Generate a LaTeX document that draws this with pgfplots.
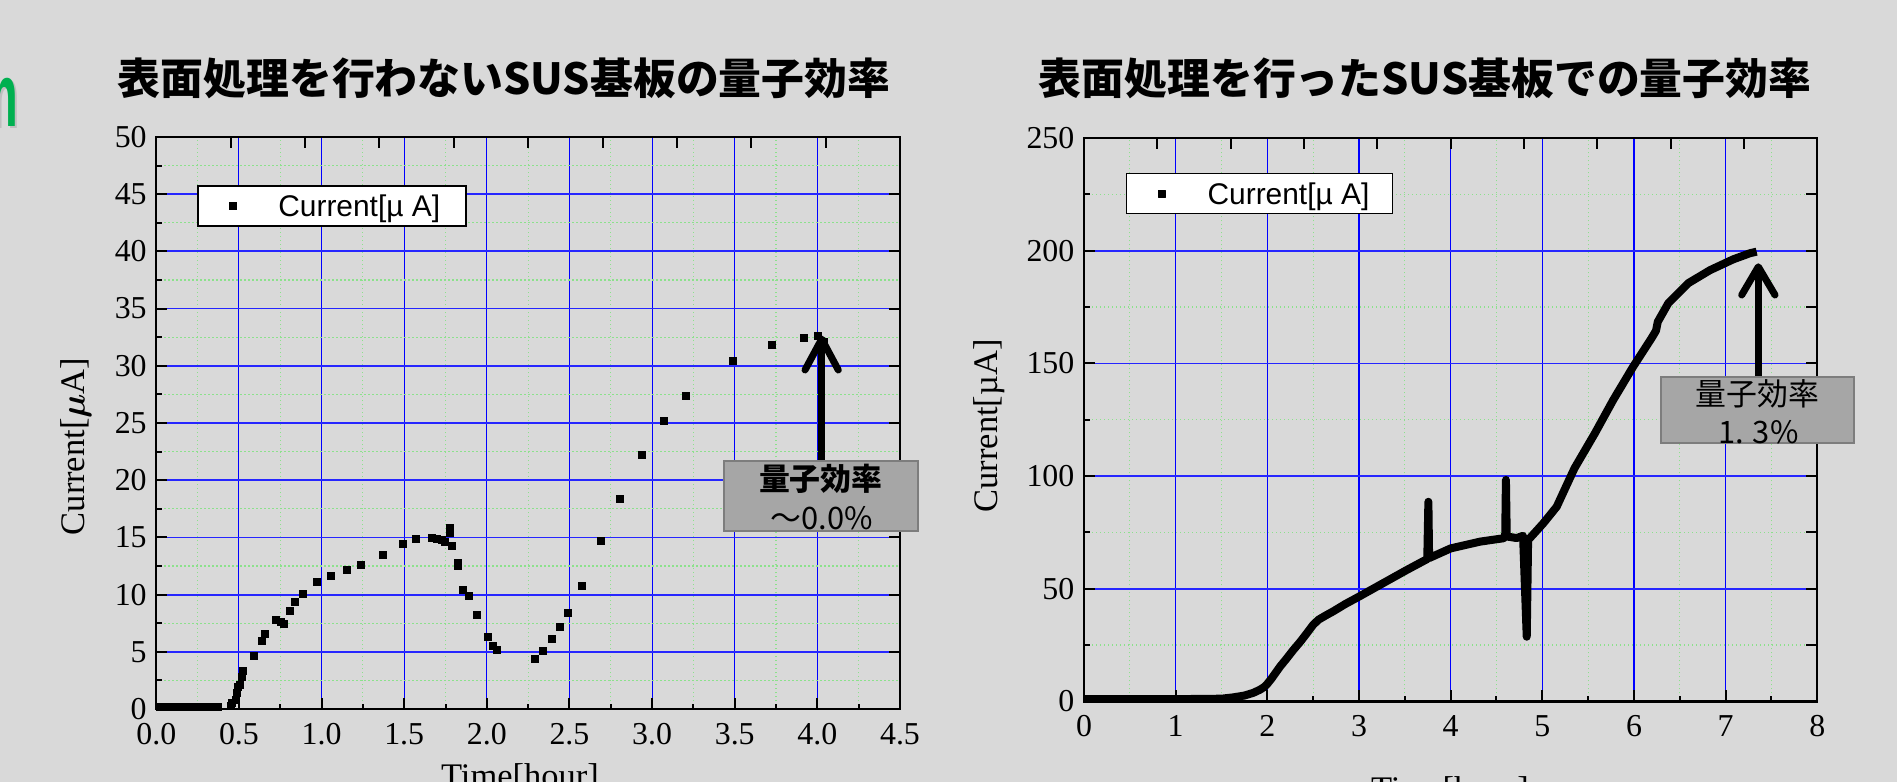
\documentclass[border=0pt]{standalone}
\usepackage{fontspec}
\setmainfont{Liberation Serif}
\newfontfamily\jp{Noto Sans CJK JP}
\newfontfamily\lsans{Liberation Sans}
\usepackage{bm}
\usepackage{graphicx}
\usepackage{pgfplots}
\pgfplotsset{compat=1.18}
\definecolor{bg}{RGB}{217,217,217}
\definecolor{mgreen}{RGB}{140,225,140}
\definecolor{boxfill}{RGB}{166,166,166}
\definecolor{boxedge}{RGB}{125,125,125}
\definecolor{slidegreen}{RGB}{0,176,80}
\pgfplotsset{
  mystyle/.style={
    scale only axis, anchor=south west,
    axis line style={line width=1.1bp, black},
    tick align=inside, xtick pos=bottom, ytick pos=left,
    major tick length=5.5bp, minor tick length=2.75bp,
    every tick/.style={black, line width=1bp},
    minor x tick num=1, minor y tick num=1,
    xmajorgrids, ymajorgrids, xminorgrids, yminorgrids,
    major x grid style={blue, line width=0.55bp},
    major y grid style={blue!85!white, line width=0.9bp},
    minor grid style={mgreen, line width=0.6bp, dash pattern=on 0.6bp off 1.4bp},
    tick label style={font=\fontsize{16}{18}\selectfont},
    /pgf/number format/assume math mode=true,
    xticklabel style={yshift=-3.5bp},
    yticklabel style={xshift=-1.3bp},
    every axis label/.append style={font=\fontsize{17.3}{20}\selectfont},
    legend image code/.code={\path[draw=none, fill=none] (0bp,-10bp) rectangle (35bp,10bp); \draw[black, fill=black, line width=0.4bp, mark=square*, mark size=1.75bp, only marks] plot coordinates {(17.5bp,0bp)};},
    legend style={anchor=north west, draw=black, line width=0.8bp, fill=white, inner xsep=0pt, inner ysep=0pt, font=\lsans\fontsize{15}{17}\selectfont, nodes={inner sep=0pt, text depth=0pt}, cells={anchor=west}},
  },
  tickstyle/.style={
    scale only axis, anchor=south west,
    xmin=0, xmax=10, ymin=0, ymax=10,
    axis line style={draw=none},
    tick align=inside, xtick pos=top, ytick pos=right,
    xtick={1,...,9}, ytick={1,...,9}, xticklabels={}, yticklabels={},
    major tick length=5.5bp, every tick/.style={black, line width=1bp},
  }
}
\begin{document}
\begin{tikzpicture}
\fill[bg] (0bp,0bp) rectangle (948.5bp,391bp);
\useasboundingbox (0bp,0bp) rectangle (948.5bp,391bp);
% partial slide title letter
\node[anchor=base east, inner sep=0pt, text=black!25, font=\lsans\bfseries\fontsize{45}{47}\selectfont] at (10.2bp,326.65bp) {\scalebox{0.55}[1]{m}};
\node[anchor=base east, inner sep=0pt, text=slidegreen, font=\lsans\bfseries\fontsize{45}{47}\selectfont] at (9.2bp,327.65bp) {\scalebox{0.55}[1]{m}};
% titles
\node[font=\jp\bfseries\fontsize{21.5}{24}\selectfont, inner sep=0pt] at (252bp,351.75bp) {表面処理を行わないSUS基板の量子効率};
\node[font=\jp\bfseries\fontsize{21.5}{24}\selectfont, inner sep=0pt] at (712.5bp,351.75bp) {表面処理を行ったSUS基板での量子効率};

% ---------------- left chart
\begin{axis}[mystyle, at={(78.15bp,36.5bp)}, width=371.85bp, height=286bp,
  xmin=0, xmax=4.5, ymin=0, ymax=50,
  xtick={0,0.5,1,1.5,2,2.5,3,3.5,4,4.5},
  xticklabels={0.0,0.5,1.0,1.5,2.0,2.5,3.0,3.5,4.0,4.5},
  ytick={0,5,10,15,20,25,30,35,40,45,50},
  xlabel={Time[hour]}, ylabel={Current[$\bm{\mu}$A]},
  xlabel style={at={(axis description cs:0.489,0)}, anchor=base, yshift=-39.25bp},
  ylabel style={at={(axis description cs:-0.108,0.459)}, anchor=center},
  legend style={at={(0.0547,0.916)}},
]
\addplot[only marks, mark=square*, mark size=1.75bp, black] coordinates {
(0.02,0.2)(0.05,0.2)(0.08,0.2)(0.11,0.2)(0.14,0.2)(0.17,0.2)(0.20,0.2)(0.23,0.2)(0.26,0.2)(0.29,0.2)(0.32,0.2)(0.35,0.2)(0.37,0.2)
(0.45,0.3)(0.46,0.5)(0.48,0.8)(0.49,1.4)(0.496,1.95)(0.506,2.1)(0.52,2.8)(0.522,3.3)
(0.59,4.6)(0.641,5.95)(0.657,6.6)(0.724,7.8)(0.752,7.65)(0.774,7.4)(0.806,8.6)(0.84,9.4)(0.889,10.1)(0.974,11.1)(1.056,11.65)(1.155,12.2)(1.24,12.6)(1.373,13.45)(1.49,14.4)(1.573,14.85)(1.669,15.0)(1.696,14.9)(1.73,14.75)(1.746,14.6)(1.774,15.8)(1.774,15.4)(1.79,14.3)(1.823,12.75)(1.827,12.5)(1.857,10.4)(1.891,9.9)(1.94,8.2)(2.006,6.3)(2.038,5.55)(2.06,5.2)(2.289,4.35)(2.341,5.07)(2.392,6.12)(2.442,7.2)(2.493,8.43)(2.573,10.8)(2.69,14.67)(2.807,18.4)(2.94,22.2)(3.073,25.17)(3.206,27.4)(3.49,30.47)(3.723,31.8)(3.92,32.45)(4.005,32.65)(4.039,32.05)
};
\legend{\makebox[99bp][l]{\hspace*{5.3bp}Current[µ A]}}
\end{axis}
\begin{axis}[tickstyle, at={(78.15bp,36.5bp)}, width=371.85bp, height=286bp]
\addplot[draw=none] coordinates {(0,0)};
\end{axis}

% ---------------- right chart
\begin{axis}[mystyle, at={(542bp,40.3bp)}, width=366.65bp, height=281.65bp,
  xmin=0, xmax=8, ymin=0, ymax=250,
  xtick={0,1,2,3,4,5,6,7,8},
  ytick={0,50,100,150,200,250},
  xlabel={Time[hour]}, ylabel={Current[µA]},
  xlabel style={at={(axis description cs:0.499,0)}, anchor=base, yshift=-49.3bp},
  ylabel style={at={(axis description cs:-0.129,0.489)}, anchor=center},
  legend style={at={(0.057,0.9386)}},
]
\addplot[black, line width=4bp, line join=round, mark=none] coordinates {
(0,1)(0.5,1)(1.0,1)(1.5,1.2)(1.63,1.8)(1.75,2.6)(1.847,3.8)(1.92,5.2)(1.97,6.5)(2.0,7.8)(2.047,10.2)(2.138,15.4)(2.21,19)(2.283,22.8)(2.36,26.5)(2.43,30.2)(2.5,34)(2.56,36.3)(2.64,38.2)(2.72,40)(2.85,43.2)(3.0,46.5)(3.229,51.7)(3.52,58.3)(3.745,63.2)(3.757,88.6)(3.765,63.6)(4.0,67.9)(4.32,70.9)(4.575,72.4)(4.595,73)(4.603,98.3)(4.612,73.2)(4.72,72.5)(4.79,73.5)(4.83,28.7)(4.845,71.6)(5.01,79)(5.157,86.4)(5.35,103.4)(5.574,119)(5.774,133.8)(5.99,148.5)(6.19,161.1)(6.24,164.5)(6.26,168.5)(6.374,176.7)(6.592,185.6)(6.83,191.4)(7.083,196.2)(7.265,198.9)(7.338,199.6)
};
\legend{\makebox[98bp][l]{\hspace*{5.5bp}Current[µ A]}}
\end{axis}
\begin{axis}[tickstyle, at={(542bp,40.3bp)}, width=366.65bp, height=281.65bp]
\addplot[draw=none] coordinates {(0,0)};
\end{axis}

% ---------------- annotations
\draw[line width=3.5bp, line cap=round] (410.85bp,160.5bp) -- (410.85bp,221bp);
\draw[line width=3.5bp, line cap=round, line join=round] (402.5bp,206bp) -- (410.85bp,221.5bp) -- (419.15bp,206bp);
\node[draw=boxedge, line width=1bp, fill=boxfill, minimum width=97bp, minimum height=35bp, inner sep=0pt] at (410.65bp,143bp) {};
\node[font=\jp\bfseries\fontsize{15.5}{17}\selectfont, inner sep=0pt] at (410.4bp,151.5bp) {量子効率};
\node[font=\jp\fontsize{15.5}{17}\selectfont, inner sep=0pt] at (410.75bp,132bp) {～0.0\%};

\draw[line width=3.5bp, line cap=round] (879.15bp,202.65bp) -- (879.15bp,257bp);
\draw[line width=3.5bp, line cap=round, line join=round] (870.85bp,243.5bp) -- (879.15bp,257.6bp) -- (887.5bp,243.5bp);
\node[draw=boxedge, line width=1bp, fill=boxfill, minimum width=96.5bp, minimum height=33bp, inner sep=0pt] at (878.75bp,186.15bp) {};
\node[font=\jp\fontsize{15.5}{17}\selectfont, inner sep=0pt] at (878.75bp,194.25bp) {量子効率};
\node[font=\jp\fontsize{15.5}{17}\selectfont, inner sep=0pt] at (879.15bp,175bp) {1. 3\%};
\end{tikzpicture}
\end{document}
